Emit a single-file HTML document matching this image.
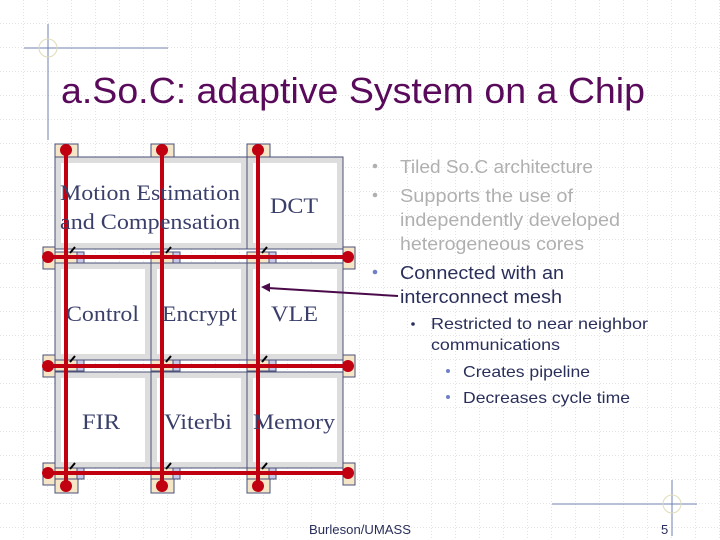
<!DOCTYPE html>
<html><head><style>
body{margin:0;width:720px;height:540px;overflow:hidden;background:#fff}
svg{display:block}
text{font-family:"Liberation Sans",sans-serif}
.s{font-family:"Liberation Serif",serif;font-size:22px;fill:#3a3f6a}
</style></head><body>
<svg width="720" height="540" xmlns="http://www.w3.org/2000/svg">
<defs>
<pattern id="g" width="24" height="24" patternUnits="userSpaceOnUse" x="0" y="0">
<path d="M24 0V24M0 24H24" stroke="#c8c8c8" stroke-width="1" stroke-dasharray="1 2" fill="none"/>
</pattern>
</defs>
<rect width="720" height="540" fill="url(#g)"/>
<line x1="24" y1="48" x2="168" y2="48" stroke="#7080b0"/>
<line x1="48" y1="24" x2="48" y2="140" stroke="#7080b0"/>
<circle cx="48" cy="48" r="9" fill="none" stroke="#e0dcb8"/>
<line x1="552" y1="504" x2="697" y2="504" stroke="#7080b0"/>
<line x1="672" y1="480" x2="672" y2="536" stroke="#7080b0"/>
<circle cx="672" cy="504" r="9" fill="none" stroke="#e0dcb8"/>
<text x="61" y="103" font-size="36" fill="#5a0a5a" textLength="584" lengthAdjust="spacingAndGlyphs">a.So.C: adaptive System on a Chip</text>
<g stroke="#4a5078" stroke-width="1">
<rect x="55" y="157" width="192" height="92" fill="#ddd"/>
<rect x="247" y="157" width="96" height="92" fill="#ddd"/>
<rect x="55" y="263" width="96" height="97" fill="#ddd"/>
<rect x="151" y="263" width="96" height="97" fill="#ddd"/>
<rect x="247" y="263" width="96" height="97" fill="#ddd"/>
<rect x="55" y="372" width="96" height="96" fill="#ddd"/>
<rect x="151" y="372" width="96" height="96" fill="#ddd"/>
<rect x="247" y="372" width="96" height="96" fill="#ddd"/>
</g>
<g fill="#fff">
<rect x="61" y="163" width="180" height="80"/>
<rect x="253" y="163" width="84" height="80"/>
<rect x="61" y="269" width="84" height="85"/>
<rect x="157" y="269" width="84" height="85"/>
<rect x="253" y="269" width="84" height="85"/>
<rect x="61" y="378" width="84" height="84"/>
<rect x="157" y="378" width="84" height="84"/>
<rect x="253" y="378" width="84" height="84"/>
</g>
<g stroke="#4a5078" stroke-width="1">
<rect x="55" y="144" width="23" height="13" fill="#f5e6c8"/>
<rect x="151" y="144" width="23" height="13" fill="#f5e6c8"/>
<rect x="247" y="144" width="23" height="13" fill="#f5e6c8"/>
<rect x="55" y="473" width="23" height="20" fill="#f5e6c8"/>
<rect x="151" y="473" width="23" height="20" fill="#f5e6c8"/>
<rect x="247" y="473" width="23" height="20" fill="#f5e6c8"/>
<g id="r1">
<rect x="43" y="247" width="12" height="22" fill="#f5e6c8"/>
<rect x="343" y="247" width="12" height="22" fill="#f5e6c8"/>
<rect x="55" y="252" width="22" height="11" fill="#f5e6c8"/><rect x="77" y="252" width="7" height="11" fill="#c8c8e8"/>
<rect x="151" y="252" width="22" height="11" fill="#f5e6c8"/><rect x="173" y="252" width="7" height="11" fill="#c8c8e8"/>
<rect x="247" y="252" width="22" height="11" fill="#f5e6c8"/><rect x="269" y="252" width="7" height="11" fill="#c8c8e8"/>
</g>
<use href="#r1" y="108"/>
<use href="#r1" y="216"/>
</g>
<g stroke="#c00010" stroke-width="4">
<line x1="66" y1="150" x2="66" y2="486"/><line x1="162" y1="150" x2="162" y2="486"/><line x1="258" y1="150" x2="258" y2="486"/>
<line x1="48" y1="257" x2="348" y2="257"/><line x1="48" y1="366" x2="348" y2="366"/><line x1="48" y1="473" x2="348" y2="473"/>
</g>
<g fill="#c00010">
<circle cx="66" cy="150" r="6"/><circle cx="162" cy="150" r="6"/><circle cx="258" cy="150" r="6"/>
<circle cx="66" cy="486" r="6"/><circle cx="162" cy="486" r="6"/><circle cx="258" cy="486" r="6"/>
<circle cx="48" cy="257" r="6"/><circle cx="348" cy="257" r="6"/>
<circle cx="48" cy="366" r="6"/><circle cx="348" cy="366" r="6"/>
<circle cx="48" cy="473" r="6"/><circle cx="348" cy="473" r="6"/>
</g>
<g stroke="#000" stroke-width="2">
<line x1="70" y1="253" x2="75" y2="247"/><line x1="166" y1="253" x2="171" y2="247"/><line x1="262" y1="253" x2="267" y2="247"/>
<line x1="70" y1="362" x2="75" y2="356"/><line x1="166" y1="362" x2="171" y2="356"/><line x1="262" y1="362" x2="267" y2="356"/>
<line x1="70" y1="469" x2="75" y2="463"/><line x1="166" y1="469" x2="171" y2="463"/><line x1="262" y1="469" x2="267" y2="463"/>
</g>
<text class="s" x="60" y="200" textLength="180" lengthAdjust="spacingAndGlyphs">Motion Estimation</text>
<text class="s" x="60" y="229" textLength="180" lengthAdjust="spacingAndGlyphs">and Compensation</text>
<text class="s" x="270" y="213" textLength="48" lengthAdjust="spacingAndGlyphs">DCT</text>
<text class="s" x="66" y="321" textLength="73" lengthAdjust="spacingAndGlyphs">Control</text>
<text class="s" x="162" y="321" textLength="75" lengthAdjust="spacingAndGlyphs">Encrypt</text>
<text class="s" x="271" y="321" textLength="47" lengthAdjust="spacingAndGlyphs">VLE</text>
<text class="s" x="82" y="429" textLength="38" lengthAdjust="spacingAndGlyphs">FIR</text>
<text class="s" x="164" y="429" textLength="68" lengthAdjust="spacingAndGlyphs">Viterbi</text>
<text class="s" x="253" y="429" textLength="82" lengthAdjust="spacingAndGlyphs">Memory</text>
<line x1="398" y1="296" x2="268" y2="288" stroke="#4a0a4a" stroke-width="2"/>
<path d="M261 287 L270 283 L270 292 Z" fill="#4a0a4a"/>
<g font-size="18" fill="#b0b0b0">
<circle cx="375" cy="166" r="2.3" fill="#b0b0b0"/><circle cx="375" cy="195" r="2.3" fill="#b0b0b0"/>
<text x="400" y="173" textLength="193" lengthAdjust="spacingAndGlyphs">Tiled So.C architecture</text>
<text x="400" y="202" textLength="173" lengthAdjust="spacingAndGlyphs">Supports the use of</text>
<text x="400" y="226" textLength="220" lengthAdjust="spacingAndGlyphs">independently developed</text>
<text x="400" y="250" textLength="184" lengthAdjust="spacingAndGlyphs">heterogeneous cores</text>
</g>
<g font-size="18" fill="#2a2f5a">
<circle cx="375" cy="272" r="2.3" fill="#7080c8"/>
<text x="400" y="279" textLength="164" lengthAdjust="spacingAndGlyphs">Connected with an</text>
<text x="400" y="303" textLength="162" lengthAdjust="spacingAndGlyphs">interconnect mesh</text>
</g>
<g font-size="16" fill="#2a2f5a">
<circle cx="413" cy="324" r="1.8" fill="#2a2f5a"/>
<text x="431" y="329" textLength="217" lengthAdjust="spacingAndGlyphs">Restricted to near neighbor</text>
<text x="431" y="350" textLength="129" lengthAdjust="spacingAndGlyphs">communications</text>
<circle cx="448" cy="371" r="2" fill="#7080c8"/>
<text x="463" y="377" textLength="127" lengthAdjust="spacingAndGlyphs">Creates pipeline</text>
<circle cx="448" cy="397" r="2" fill="#7080c8"/>
<text x="463" y="403" textLength="167" lengthAdjust="spacingAndGlyphs">Decreases cycle time</text>
</g>
<text x="309" y="534" font-size="13" fill="#2a2f5a" textLength="102" lengthAdjust="spacingAndGlyphs">Burleson/UMASS</text>
<text x="661" y="534" font-size="13" fill="#2a2f5a">5</text>
</svg>
</body></html>
